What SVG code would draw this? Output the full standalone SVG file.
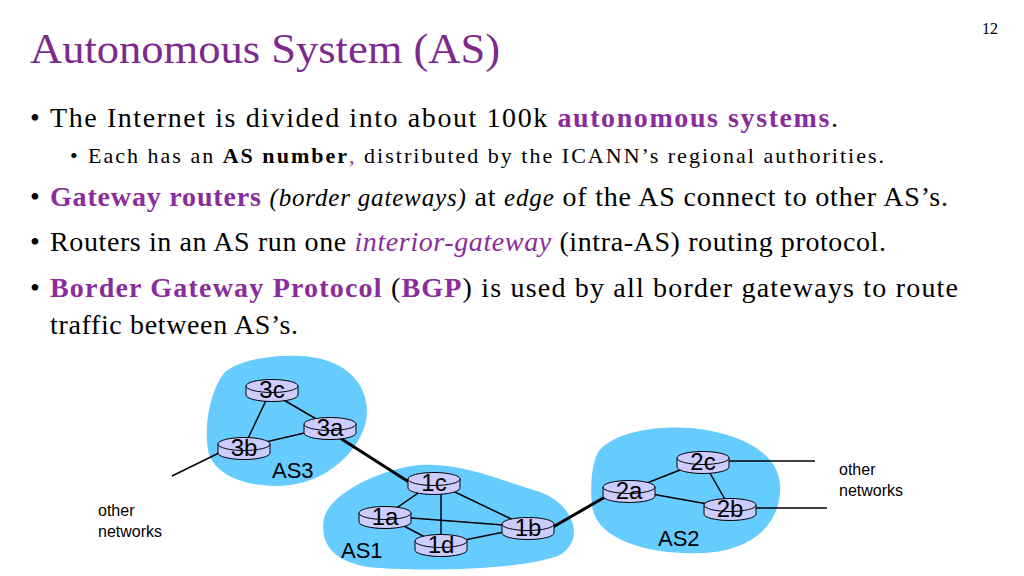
<svg xmlns="http://www.w3.org/2000/svg" width="1024" height="576" viewBox="0 0 1024 576">
<style>
.t{font-family:"Liberation Serif",serif;fill:#000}
.p{fill:#8a2c9c;font-weight:bold}
.h{font-family:"Liberation Sans",Arial,sans-serif;fill:#000}
.blob{fill:#66ccff}
.ln{stroke:#000;stroke-width:1.5;fill:none}
.bl{stroke:#000;stroke-width:3;fill:none}
.r{fill:#ccccff;stroke:#000;stroke-width:1}
.rl{font-family:"Liberation Sans",Arial,sans-serif;font-size:24px;text-anchor:middle;fill:#000}
</style>
<defs>
<g id="rt"><path class="r" d="M-26,-4 v9 a26,6.5 0 0 0 52,0 v-9"/><ellipse class="r" cx="0" cy="-4" rx="26" ry="6.5"/></g>
</defs>
<rect width="1024" height="576" fill="#fff"/>
<text x="990" y="34" class="t" font-size="16" text-anchor="middle">12</text>
<text x="30" y="63" class="t" font-size="42" style="fill:#7d2a8f" textLength="470" lengthAdjust="spacingAndGlyphs">Autonomous System (AS)</text>
<g class="t" font-size="28">
<text x="30" y="127">•</text><text x="50" y="127" textLength="788">The Internet is divided into about 100k <tspan class="p">autonomous systems</tspan>.</text>
<text x="70" y="163" font-size="22">•</text><text x="88" y="163" font-size="22" textLength="796">Each has an <tspan font-weight="bold">AS number</tspan><tspan font-style="italic" style="fill:#8a2c9c">,</tspan> distributed by the ICANN’s regional authorities.</text>
<text x="30" y="206">•</text><text x="50" y="206" textLength="898"><tspan class="p">Gateway routers </tspan><tspan font-style="italic" font-size="25">(border gateways)</tspan> at <tspan font-style="italic" font-size="25">edge</tspan> of the AS connect to other AS’s.</text>
<text x="30" y="251">•</text><text x="50" y="251" textLength="836">Routers in an AS run one <tspan font-style="italic" style="fill:#8a2c9c">interior-gateway</tspan> (intra-AS) routing protocol.</text>
<text x="30" y="297">•</text><text x="50" y="297" textLength="908"><tspan class="p">Border Gateway Protocol</tspan> (<tspan class="p">BGP</tspan>) is used by all border gateways to route</text>
<text x="50" y="334" textLength="248">traffic between AS’s.</text>
</g>
<g id="blobs">
<path class="blob" d="M225,372 C245,355 300,352 325,360 C360,370 372,400 365,425 C358,450 330,480 290,485 C250,490 212,475 208,450 C204,425 210,390 225,372 Z"/>
<path class="blob" d="M325,515 C335,490 385,468 420,465 C460,462 500,480 540,492 C575,505 585,540 560,555 C530,568 440,572 380,568 C330,565 318,540 325,515 Z"/>
<path class="blob" d="M595,460 C600,435 650,425 690,428 C735,432 778,450 780,485 C782,525 750,552 700,553 C650,555 595,540 592,505 C590,485 592,470 595,460 Z"/>
</g>
<g id="connectors">
<line class="ln" x1="270" y1="392" x2="244" y2="447"/>
<line class="ln" x1="270" y1="392" x2="330" y2="427"/>
<line class="ln" x1="244" y1="447" x2="330" y2="427"/>
<line class="ln" x1="225" y1="450" x2="172" y2="476"/>
<line class="bl" x1="340" y1="438" x2="412" y2="484"/>
<line class="ln" x1="434" y1="482" x2="385" y2="516"/>
<line class="ln" x1="441" y1="488" x2="441" y2="545"/>
<line class="ln" x1="434" y1="482" x2="528" y2="527"/>
<line class="ln" x1="385" y1="516" x2="528" y2="527"/>
<line class="ln" x1="385" y1="516" x2="440" y2="545"/>
<line class="ln" x1="440" y1="545" x2="528" y2="527"/>
<line class="bl" x1="553" y1="527" x2="605" y2="497"/>
<line class="ln" x1="629" y1="490" x2="703" y2="461"/>
<line class="ln" x1="629" y1="490" x2="730" y2="508"/>
<line class="ln" x1="703" y1="461" x2="730" y2="508"/>
<line class="ln" x1="728" y1="461" x2="815" y2="461"/>
<line class="ln" x1="755" y1="508" x2="827" y2="508"/>
</g>
<g id="r3c"><use href="#rt" x="272" y="390"/><text class="rl" x="272" y="398">3c</text></g>
<g id="r3a"><use href="#rt" x="330" y="428"/><text class="rl" x="330" y="436">3a</text></g>
<g id="r3b"><use href="#rt" x="244" y="448"/><text class="rl" x="244" y="456">3b</text></g>
<g id="r1c"><use href="#rt" x="434" y="483"/><text class="rl" x="434" y="491">1c</text></g>
<g id="r1a"><use href="#rt" x="385" y="517"/><text class="rl" x="385" y="525">1a</text></g>
<g id="r1d"><use href="#rt" x="441" y="545"/><text class="rl" x="441" y="553">1d</text></g>
<g id="r1b"><use href="#rt" x="528" y="528"/><text class="rl" x="528" y="536">1b</text></g>
<g id="r2c"><use href="#rt" x="703" y="462"/><text class="rl" x="703" y="470">2c</text></g>
<g id="r2a"><use href="#rt" x="629" y="491"/><text class="rl" x="629" y="499">2a</text></g>
<g id="r2b"><use href="#rt" x="730" y="509"/><text class="rl" x="730" y="517">2b</text></g>
<g class="h" font-size="22">
<text x="272" y="478">AS3</text>
<text x="341" y="558">AS1</text>
<text x="658" y="546">AS2</text>
</g>
<g class="h" font-size="16">
<text x="98" y="516">other</text><text x="98" y="537">networks</text>
<text x="839" y="475">other</text><text x="839" y="496">networks</text>
</g>
</svg>
